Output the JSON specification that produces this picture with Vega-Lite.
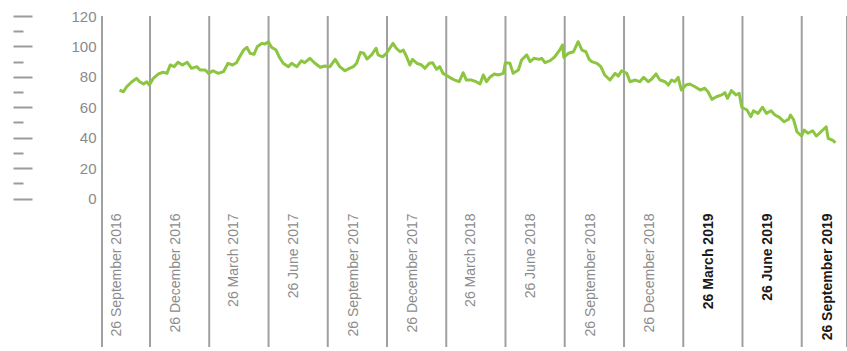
{
  "$schema": "https://vega.github.io/schema/vega-lite/v6.json",
  "width": 745,
  "height": 331,
  "autosize": {"type": "none"},
  "padding": {"left": 102, "top": 16, "right": 0, "bottom": 4},
  "background": "white",
  "config": {"view": {"stroke": null}},
  "datasets": {
    "separators": [
      {"date": "2016-09-04T00:00"}, {"date": "2016-11-16T22:00"}, {"date": "2017-02-16T02:00"},
      {"date": "2017-05-18T10:00"}, {"date": "2017-08-17T14:00"}, {"date": "2017-11-16T19:00"},
      {"date": "2018-02-16T00:00"}, {"date": "2018-05-18T05:00"}, {"date": "2018-08-17T10:00"},
      {"date": "2018-11-16T17:00"}, {"date": "2019-02-15T22:00"}, {"date": "2019-05-18T02:00"},
      {"date": "2019-08-17T07:00"}, {"date": "2019-10-26T00:00"}
    ],
    "series": [
      {"date": "2016-10-01T00:00", "value": 71.3},
      {"date": "2016-10-07T00:00", "value": 70.2},
      {"date": "2016-10-12T00:00", "value": 73.5},
      {"date": "2016-10-20T00:00", "value": 76.8},
      {"date": "2016-10-27T00:00", "value": 79.0},
      {"date": "2016-11-01T00:00", "value": 76.8},
      {"date": "2016-11-07T00:00", "value": 75.3},
      {"date": "2016-11-12T00:00", "value": 76.8},
      {"date": "2016-11-16T00:00", "value": 74.6},
      {"date": "2016-11-22T00:00", "value": 79.0},
      {"date": "2016-11-30T00:00", "value": 81.9},
      {"date": "2016-12-07T00:00", "value": 83.0},
      {"date": "2016-12-13T00:00", "value": 82.3},
      {"date": "2016-12-18T00:00", "value": 87.8},
      {"date": "2016-12-24T00:00", "value": 86.7},
      {"date": "2016-12-30T00:00", "value": 89.6},
      {"date": "2017-01-06T00:00", "value": 87.8},
      {"date": "2017-01-13T00:00", "value": 89.6},
      {"date": "2017-01-20T00:00", "value": 85.6},
      {"date": "2017-01-28T00:00", "value": 86.7},
      {"date": "2017-02-02T00:00", "value": 84.5},
      {"date": "2017-02-10T00:00", "value": 84.5},
      {"date": "2017-02-15T00:00", "value": 82.3},
      {"date": "2017-02-22T00:00", "value": 84.0},
      {"date": "2017-03-02T00:00", "value": 82.3},
      {"date": "2017-03-10T00:00", "value": 83.4},
      {"date": "2017-03-17T00:00", "value": 88.9},
      {"date": "2017-03-24T00:00", "value": 87.8},
      {"date": "2017-03-30T00:00", "value": 89.3},
      {"date": "2017-04-04T00:00", "value": 93.2},
      {"date": "2017-04-10T00:00", "value": 97.6},
      {"date": "2017-04-15T00:00", "value": 99.4},
      {"date": "2017-04-20T00:00", "value": 95.5},
      {"date": "2017-04-26T00:00", "value": 94.8},
      {"date": "2017-05-01T00:00", "value": 99.8},
      {"date": "2017-05-08T00:00", "value": 102.0},
      {"date": "2017-05-13T00:00", "value": 101.6},
      {"date": "2017-05-18T00:00", "value": 103.1},
      {"date": "2017-05-23T00:00", "value": 99.4},
      {"date": "2017-05-30T00:00", "value": 97.6},
      {"date": "2017-06-05T00:00", "value": 92.2},
      {"date": "2017-06-10T00:00", "value": 88.9},
      {"date": "2017-06-18T00:00", "value": 86.7},
      {"date": "2017-06-23T00:00", "value": 88.9},
      {"date": "2017-07-01T00:00", "value": 86.7},
      {"date": "2017-07-08T00:00", "value": 90.6},
      {"date": "2017-07-13T00:00", "value": 89.3},
      {"date": "2017-07-21T00:00", "value": 92.2},
      {"date": "2017-07-29T00:00", "value": 88.9},
      {"date": "2017-08-06T00:00", "value": 86.3},
      {"date": "2017-08-13T00:00", "value": 87.1},
      {"date": "2017-08-21T00:00", "value": 86.7},
      {"date": "2017-08-29T00:00", "value": 91.5},
      {"date": "2017-09-05T00:00", "value": 86.7},
      {"date": "2017-09-13T00:00", "value": 84.0},
      {"date": "2017-09-20T00:00", "value": 85.6},
      {"date": "2017-09-26T00:00", "value": 86.7},
      {"date": "2017-10-01T00:00", "value": 88.9},
      {"date": "2017-10-07T00:00", "value": 96.1},
      {"date": "2017-10-12T00:00", "value": 95.5},
      {"date": "2017-10-17T00:00", "value": 91.7},
      {"date": "2017-10-24T00:00", "value": 94.4},
      {"date": "2017-10-31T00:00", "value": 98.8},
      {"date": "2017-11-03T00:00", "value": 94.4},
      {"date": "2017-11-10T00:00", "value": 93.2},
      {"date": "2017-11-16T00:00", "value": 95.5},
      {"date": "2017-11-21T00:00", "value": 98.8},
      {"date": "2017-11-26T00:00", "value": 102.0},
      {"date": "2017-12-01T00:00", "value": 98.8},
      {"date": "2017-12-07T00:00", "value": 96.5},
      {"date": "2017-12-12T00:00", "value": 97.6},
      {"date": "2017-12-17T00:00", "value": 93.2},
      {"date": "2017-12-22T00:00", "value": 87.8},
      {"date": "2017-12-26T00:00", "value": 91.5},
      {"date": "2018-01-02T00:00", "value": 88.9},
      {"date": "2018-01-09T00:00", "value": 87.8},
      {"date": "2018-01-14T00:00", "value": 85.6},
      {"date": "2018-01-21T00:00", "value": 88.9},
      {"date": "2018-01-26T00:00", "value": 89.3},
      {"date": "2018-02-01T00:00", "value": 85.0},
      {"date": "2018-02-06T00:00", "value": 86.7},
      {"date": "2018-02-11T00:00", "value": 82.3},
      {"date": "2018-02-18T00:00", "value": 80.5},
      {"date": "2018-02-24T00:00", "value": 79.0},
      {"date": "2018-03-01T00:00", "value": 77.9},
      {"date": "2018-03-08T00:00", "value": 76.8},
      {"date": "2018-03-14T00:00", "value": 82.7},
      {"date": "2018-03-19T00:00", "value": 77.9},
      {"date": "2018-03-27T00:00", "value": 77.9},
      {"date": "2018-04-03T00:00", "value": 76.8},
      {"date": "2018-04-09T00:00", "value": 75.3},
      {"date": "2018-04-14T00:00", "value": 81.2},
      {"date": "2018-04-19T00:00", "value": 76.8},
      {"date": "2018-04-24T00:00", "value": 79.7},
      {"date": "2018-05-01T00:00", "value": 81.9},
      {"date": "2018-05-07T00:00", "value": 81.2},
      {"date": "2018-05-15T00:00", "value": 82.3},
      {"date": "2018-05-18T00:00", "value": 89.3},
      {"date": "2018-05-25T00:00", "value": 88.9},
      {"date": "2018-05-30T00:00", "value": 82.3},
      {"date": "2018-06-07T00:00", "value": 84.5},
      {"date": "2018-06-12T00:00", "value": 91.1},
      {"date": "2018-06-20T00:00", "value": 94.4},
      {"date": "2018-06-25T00:00", "value": 90.0},
      {"date": "2018-07-01T00:00", "value": 92.2},
      {"date": "2018-07-09T00:00", "value": 91.5},
      {"date": "2018-07-13T00:00", "value": 92.2},
      {"date": "2018-07-18T00:00", "value": 89.3},
      {"date": "2018-07-26T00:00", "value": 90.6},
      {"date": "2018-08-02T00:00", "value": 93.2},
      {"date": "2018-08-09T00:00", "value": 97.2},
      {"date": "2018-08-14T00:00", "value": 100.9},
      {"date": "2018-08-16T00:00", "value": 92.8},
      {"date": "2018-08-23T00:00", "value": 95.5},
      {"date": "2018-08-31T00:00", "value": 96.5},
      {"date": "2018-09-07T00:00", "value": 103.1},
      {"date": "2018-09-13T00:00", "value": 97.6},
      {"date": "2018-09-19T00:00", "value": 96.5},
      {"date": "2018-09-24T00:00", "value": 91.5},
      {"date": "2018-09-28T00:00", "value": 90.0},
      {"date": "2018-10-06T00:00", "value": 88.9},
      {"date": "2018-10-12T00:00", "value": 86.7},
      {"date": "2018-10-18T00:00", "value": 81.2},
      {"date": "2018-10-26T00:00", "value": 77.9},
      {"date": "2018-11-03T00:00", "value": 82.3},
      {"date": "2018-11-08T00:00", "value": 80.5},
      {"date": "2018-11-13T00:00", "value": 84.0},
      {"date": "2018-11-21T00:00", "value": 82.3},
      {"date": "2018-11-26T00:00", "value": 76.8},
      {"date": "2018-12-04T00:00", "value": 77.9},
      {"date": "2018-12-11T00:00", "value": 76.8},
      {"date": "2018-12-17T00:00", "value": 79.7},
      {"date": "2018-12-24T00:00", "value": 76.8},
      {"date": "2018-12-29T00:00", "value": 78.4},
      {"date": "2019-01-05T00:00", "value": 81.9},
      {"date": "2019-01-11T00:00", "value": 77.9},
      {"date": "2019-01-19T00:00", "value": 76.8},
      {"date": "2019-01-24T00:00", "value": 74.6},
      {"date": "2019-01-29T00:00", "value": 77.9},
      {"date": "2019-02-03T00:00", "value": 76.8},
      {"date": "2019-02-08T00:00", "value": 79.7},
      {"date": "2019-02-13T00:00", "value": 71.3},
      {"date": "2019-02-20T00:00", "value": 74.6},
      {"date": "2019-02-26T00:00", "value": 75.3},
      {"date": "2019-03-06T00:00", "value": 73.5},
      {"date": "2019-03-14T00:00", "value": 71.3},
      {"date": "2019-03-21T00:00", "value": 72.5},
      {"date": "2019-03-26T00:00", "value": 70.2},
      {"date": "2019-04-01T00:00", "value": 65.2},
      {"date": "2019-04-08T00:00", "value": 66.9},
      {"date": "2019-04-16T00:00", "value": 68.1},
      {"date": "2019-04-21T00:00", "value": 69.6},
      {"date": "2019-04-25T00:00", "value": 65.9},
      {"date": "2019-05-01T00:00", "value": 70.9},
      {"date": "2019-05-08T00:00", "value": 68.1},
      {"date": "2019-05-13T00:00", "value": 69.2},
      {"date": "2019-05-17T00:00", "value": 60.0},
      {"date": "2019-05-25T00:00", "value": 58.2},
      {"date": "2019-05-31T00:00", "value": 53.8},
      {"date": "2019-06-04T00:00", "value": 57.7},
      {"date": "2019-06-11T00:00", "value": 56.0},
      {"date": "2019-06-18T00:00", "value": 60.0},
      {"date": "2019-06-24T00:00", "value": 56.0},
      {"date": "2019-07-01T00:00", "value": 57.7},
      {"date": "2019-07-07T00:00", "value": 54.9},
      {"date": "2019-07-14T00:00", "value": 53.4},
      {"date": "2019-07-21T00:00", "value": 50.5},
      {"date": "2019-07-28T00:00", "value": 52.1},
      {"date": "2019-07-31T00:00", "value": 54.9},
      {"date": "2019-08-05T00:00", "value": 51.6},
      {"date": "2019-08-10T00:00", "value": 43.9},
      {"date": "2019-08-17T00:00", "value": 41.1},
      {"date": "2019-08-21T00:00", "value": 45.0},
      {"date": "2019-08-27T00:00", "value": 42.9},
      {"date": "2019-09-03T00:00", "value": 44.6},
      {"date": "2019-09-09T00:00", "value": 41.1},
      {"date": "2019-09-16T00:00", "value": 43.9},
      {"date": "2019-09-24T00:00", "value": 47.2},
      {"date": "2019-09-27T00:00", "value": 39.6},
      {"date": "2019-10-05T00:00", "value": 38.0},
      {"date": "2019-10-08T00:00", "value": 36.7}
    ]
  },
  "encoding": {
    "x": {
      "field": "date",
      "type": "temporal",
      "scale": {
        "domain": [{"year": 2016, "month": 9, "date": 4}, {"year": 2019, "month": 10, "date": 26}],
        "nice": false
      },
      "axis": {
        "values": [
          {"year": 2016, "month": 9, "date": 26}, {"year": 2016, "month": 12, "date": 26},
          {"year": 2017, "month": 3, "date": 26}, {"year": 2017, "month": 6, "date": 26},
          {"year": 2017, "month": 9, "date": 26}, {"year": 2017, "month": 12, "date": 26},
          {"year": 2018, "month": 3, "date": 26}, {"year": 2018, "month": 6, "date": 26},
          {"year": 2018, "month": 9, "date": 26}, {"year": 2018, "month": 12, "date": 26},
          {"year": 2019, "month": 3, "date": 26}, {"year": 2019, "month": 6, "date": 26},
          {"year": 2019, "month": 9, "date": 26}
        ],
        "format": "%d %B %Y",
        "title": null,
        "domain": false,
        "ticks": false,
        "grid": false,
        "labelAngle": 270,
        "labelAlign": "right",
        "labelBaseline": "middle",
        "labelPadding": -134,
        "labelOverlap": false,
        "labelFlush": false,
        "labelBound": false,
        "labelFont": "Liberation Sans",
        "labelFontSize": 14,
        "labelFontWeight": {"condition": {"test": "year(datum.value) >= 2019", "value": "bold"}, "value": "normal"},
        "labelColor": {"condition": {"test": "year(datum.value) >= 2019", "value": "#1a1a1a"}, "value": "#8c8c8c"}
      }
    }
  },
  "layer": [
    {
      "data": {"name": "separators"},
      "mark": {"type": "rule", "color": "#a0a0a0", "strokeWidth": 2},
      "encoding": {}
    },
    {
      "data": {"name": "series"},
      "mark": {"type": "line", "color": "#8cc540", "strokeWidth": 3, "strokeJoin": "round"},
      "encoding": {
        "y": {
          "field": "value",
          "type": "quantitative",
          "scale": {"domain": [-97.6, 120], "nice": false, "zero": false},
          "axis": {
            "values": [0, 10, 20, 30, 40, 50, 60, 70, 80, 90, 100, 110, 120],
            "title": null,
            "domain": false,
            "grid": false,
            "offset": 89,
            "tickSize": {"condition": {"test": "datum.value % 20 === 0", "value": -19}, "value": -10},
            "tickColor": "#9b9b9b",
            "tickWidth": 2,
            "labelExpr": "datum.value % 20 === 0 ? datum.label : ''",
            "labelPadding": -64,
            "labelFont": "Liberation Sans",
            "labelFontSize": 15,
            "labelColor": "#8a8a8a",
            "labelOverlap": false,
            "labelBound": false
          }
        }
      }
    }
  ]
}
